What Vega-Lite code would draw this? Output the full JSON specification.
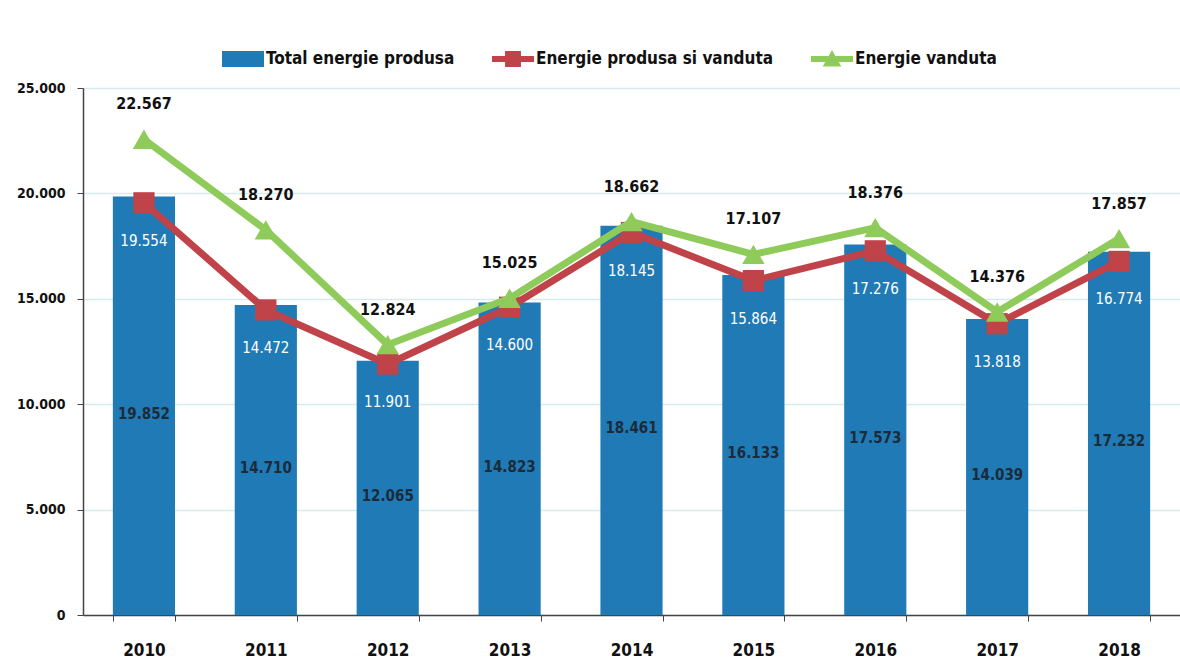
{
  "$schema": "https://vega.github.io/schema/vega-lite/v6.json",
  "autosize": "none",
  "width": 1097,
  "height": 527,
  "padding": {"left": 83, "top": 88, "right": 0, "bottom": 53},
  "background": "white",
  "config": {
    "locale": {"number": {"decimal": ",", "thousands": ".", "grouping": [3], "currency": ["", ""]}},
    "font": "DejaVu Sans Condensed, Roboto",
    "view": {"stroke": null}
  },
  "data": {"values": [
    {"year": "2010", "series": "Total energie produsa", "value": 19852},
    {"year": "2011", "series": "Total energie produsa", "value": 14710},
    {"year": "2012", "series": "Total energie produsa", "value": 12065},
    {"year": "2013", "series": "Total energie produsa", "value": 14823},
    {"year": "2014", "series": "Total energie produsa", "value": 18461},
    {"year": "2015", "series": "Total energie produsa", "value": 16133},
    {"year": "2016", "series": "Total energie produsa", "value": 17573},
    {"year": "2017", "series": "Total energie produsa", "value": 14039},
    {"year": "2018", "series": "Total energie produsa", "value": 17232},
    {"year": "2010", "series": "Energie produsa si vanduta", "value": 19554},
    {"year": "2011", "series": "Energie produsa si vanduta", "value": 14472},
    {"year": "2012", "series": "Energie produsa si vanduta", "value": 11901},
    {"year": "2013", "series": "Energie produsa si vanduta", "value": 14600},
    {"year": "2014", "series": "Energie produsa si vanduta", "value": 18145},
    {"year": "2015", "series": "Energie produsa si vanduta", "value": 15864},
    {"year": "2016", "series": "Energie produsa si vanduta", "value": 17276},
    {"year": "2017", "series": "Energie produsa si vanduta", "value": 13818},
    {"year": "2018", "series": "Energie produsa si vanduta", "value": 16774},
    {"year": "2010", "series": "Energie vanduta", "value": 22567},
    {"year": "2011", "series": "Energie vanduta", "value": 18270},
    {"year": "2012", "series": "Energie vanduta", "value": 12824},
    {"year": "2013", "series": "Energie vanduta", "value": 15025},
    {"year": "2014", "series": "Energie vanduta", "value": 18662},
    {"year": "2015", "series": "Energie vanduta", "value": 17107},
    {"year": "2016", "series": "Energie vanduta", "value": 18376},
    {"year": "2017", "series": "Energie vanduta", "value": 14376},
    {"year": "2018", "series": "Energie vanduta", "value": 17857}
  ]},
  "encoding": {
    "x": {
      "field": "year", "type": "ordinal", "title": null,
      "scale": {"paddingInner": 0.49, "paddingOuter": 0.245},
      "axis": {
        "labelAngle": 0, "labelFontWeight": "bold", "labelFontSize": 17,
        "labelColor": "#111", "labelPadding": 21, "tickBand": "extent", "tickSize": 6, "tickColor": "#444",
        "domainColor": "#444", "domainWidth": 1.5
      }
    },
    "y": {
      "field": "value", "type": "quantitative", "title": null,
      "scale": {"domain": [0, 25000]},
      "axis": {
        "values": [0, 5000, 10000, 15000, 20000, 25000], "labelExpr": "format(datum.value, ',')",
        "labelFontWeight": "bold", "labelFontSize": 14, "labelColor": "#111",
        "labelPadding": 12, "tickSize": 6, "tickColor": "#444", "domainColor": "#444", "domainWidth": 1.5,
        "gridColor": "#d6ecec", "gridWidth": 1.5
      }
    }
  },
  "layer": [
    {
      "transform": [{"filter": "datum.series === 'Total energie produsa'"}],
      "mark": {"type": "bar"},
      "encoding": {
        "color": {"field": "series", "type": "nominal",
          "scale": {"domain": ["Total energie produsa", "Energie produsa si vanduta", "Energie vanduta"], "range": ["#1f7ab5", "#c0434a", "#8fcb5a"]},
          "legend": {
            "orient": "none", "direction": "horizontal", "legendX": 145, "legendY": -44,
            "title": null, "labelFontWeight": "bold", "labelFontSize": 17, "labelLimit": 400,
            "labelColor": "#111", "symbolSize": 900, "columnPadding": 37, "labelOffset": 8, "symbolOpacity": 1,
            "symbolStrokeWidth": 0
          }}
      }
    },
    {
      "transform": [{"filter": "datum.series === 'Energie produsa si vanduta'"}],
      "mark": {"type": "line", "strokeWidth": 7},
      "encoding": {
        "color": {"field": "series", "type": "nominal"},
        "order": {"field": "year"}
      }
    },
    {
      "transform": [{"filter": "datum.series === 'Energie produsa si vanduta'"}],
      "mark": {"type": "point", "filled": true, "opacity": 1, "size": 450, "shape": "square"},
      "encoding": {
        "color": {"field": "series", "type": "nominal"}
      }
    },
    {
      "transform": [{"filter": "datum.series === 'Energie vanduta'"}],
      "mark": {"type": "line", "strokeWidth": 7},
      "encoding": {
        "color": {"field": "series", "type": "nominal"},
        "order": {"field": "year"}
      }
    },
    {
      "transform": [{"filter": "datum.series === 'Energie vanduta'"}],
      "mark": {"type": "point", "filled": true, "opacity": 1, "size": 500, "shape": "triangle-up"},
      "encoding": {
        "color": {"field": "series", "type": "nominal"}
      }
    },
    {
      "mark": {"type": "point", "filled": true, "opacity": 0, "size": 10},
      "encoding": {
        "color": {"field": "series", "type": "nominal"},
        "shape": {"field": "series", "type": "nominal",
          "scale": {"domain": ["Total energie produsa", "Energie produsa si vanduta", "Energie vanduta"],
            "range": ["M-1.4,-0.53H1.4V0.53H-1.4Z", "M-1.4,-0.2H1.4V0.2H-1.4Z M-0.53,-0.53H0.53V0.53H-0.53Z", "M-1.4,-0.2H1.4V0.2H-1.4Z M0,-0.6L0.62,0.5H-0.62Z"]}}
      }
    },
    {
      "transform": [{"filter": "datum.series === 'Total energie produsa'"}, {"calculate": "datum.value / 2", "as": "mid"}],
      "mark": {"type": "text", "fontWeight": "bold", "fontSize": 15, "color": "#1c2b3a", "dy": 8},
      "encoding": {
        "y": {"field": "mid", "type": "quantitative"},
        "text": {"field": "value", "type": "quantitative", "format": ","}
      }
    },
    {
      "transform": [{"filter": "datum.series === 'Energie produsa si vanduta'"}],
      "mark": {"type": "text", "fontWeight": "normal", "fontSize": 15, "color": "white", "dy": 38},
      "encoding": {
        "text": {"field": "value", "type": "quantitative", "format": ","}
      }
    },
    {
      "transform": [{"filter": "datum.series === 'Energie vanduta'"}],
      "mark": {"type": "text", "fontWeight": "bold", "fontSize": 16, "color": "#111", "dy": -35},
      "encoding": {
        "text": {"field": "value", "type": "quantitative", "format": ","}
      }
    }
  ]
}
